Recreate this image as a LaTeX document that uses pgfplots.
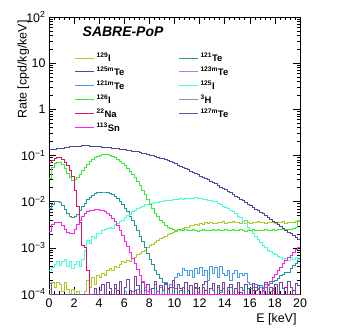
\documentclass[border=0pt]{standalone}
\usepackage{fontspec}
\setmainfont{Liberation Sans}
\usepackage{pgfplots}
\usepackage{pgfplotstable}
\pgfplotsset{compat=1.18}

\definecolor{cI129}{HTML}{AACC22}
\definecolor{cTe125m}{HTML}{554499}
\definecolor{cTe121m}{HTML}{4499FF}
\definecolor{cI126}{HTML}{33EE33}
\definecolor{cNa22}{HTML}{DD1166}
\definecolor{cSn113}{HTML}{FF22EE}
\definecolor{cTe121}{HTML}{229999}
\definecolor{cTe123m}{HTML}{BB77EE}
\definecolor{cI125}{HTML}{44FFDD}
\definecolor{cH3}{HTML}{9988BB}
\definecolor{cTe127m}{HTML}{7744AA}

% rates in cpd/kg/keV, left bin edges (0.2 keV bins); 1e-4 = empty bin
\pgfplotstableread[row sep=\\]{x y\\
0 1.26e-4\\ 0.2 1.78e-4\\ 0.4 1.41e-4\\ 0.6 1.78e-4\\ 0.8 1.58e-4\\ 1.0 1.12e-4\\ 1.2 1.78e-4\\ 1.4 1.26e-4\\
1.6 1e-4\\ 1.8 1.26e-4\\ 2.0 1e-4\\ 2.2 1.12e-4\\ 2.4 1e-4\\ 2.8 1.12e-4\\ 3.0 2.0e-4\\ 3.2 1.41e-4\\
3.4 2.24e-4\\ 3.6 1.58e-4\\ 3.8 2.51e-4\\ 4.0 2.24e-4\\ 4.2 2.82e-4\\ 4.4 2.51e-4\\ 4.6 3.16e-4\\ 4.8 3.55e-4\\
5.0 3.31e-4\\ 5.2 3.98e-4\\ 5.4 3.80e-4\\ 5.6 4.47e-4\\ 5.8 5.01e-4\\ 6.0 4.79e-4\\ 6.2 5.25e-4\\ 6.4 5.01e-4\\
6.6 6.03e-4\\ 6.8 6.31e-4\\ 7.0 7.08e-4\\ 7.2 7.59e-4\\ 7.4 8.32e-4\\ 7.6 8.91e-4\\ 7.8 1.00e-3\\ 8.0 1.12e-3\\
8.2 1.20e-3\\ 8.4 1.32e-3\\ 8.6 1.41e-3\\ 8.8 1.58e-3\\ 9.0 1.66e-3\\ 9.2 1.78e-3\\ 9.4 1.91e-3\\ 9.6 2.09e-3\\
9.8 2.19e-3\\ 10.0 2.29e-3\\ 10.2 2.51e-3\\ 10.4 2.51e-3\\ 10.6 2.69e-3\\ 10.8 2.75e-3\\ 11.0 2.82e-3\\ 11.2 3.02e-3\\
11.4 3.02e-3\\ 11.6 3.16e-3\\ 11.8 3.02e-3\\ 12.0 3.31e-3\\ 12.2 3.16e-3\\ 12.4 3.47e-3\\ 12.6 3.31e-3\\ 12.8 3.55e-3\\
13.0 3.39e-3\\ 13.2 3.4e-3\\ 13.4 3.6e-3\\ 13.6 3.5e-3\\ 13.8 3.7e-3\\ 14.0 3.4e-3\\ 14.2 3.6e-3\\ 14.4 3.5e-3\\
14.6 3.8e-3\\ 14.8 3.5e-3\\ 15.0 3.6e-3\\ 15.2 3.4e-3\\ 15.4 3.7e-3\\ 15.6 3.9e-3\\ 15.8 3.6e-3\\ 16.0 3.3e-3\\
16.2 3.6e-3\\ 16.4 3.5e-3\\ 16.6 3.7e-3\\ 16.8 3.5e-3\\ 17.0 3.6e-3\\ 17.2 3.4e-3\\ 17.4 3.6e-3\\ 17.6 3.5e-3\\
17.8 3.6e-3\\ 18.0 3.4e-3\\ 18.2 3.6e-3\\ 18.4 3.5e-3\\ 18.6 3.7e-3\\ 18.8 3.4e-3\\ 19.0 3.6e-3\\ 19.2 3.5e-3\\
19.4 3.6e-3\\ 19.6 3.7e-3\\ 19.8 4.0e-3\\ 20 4.0e-3\\
}\tIonetwonine

\pgfplotstableread[row sep=\\]{x y\\
0 0.132\\ 0.2 0.1345\\ 0.4 0.137\\ 0.6 0.140\\ 0.8 0.1425\\ 1.0 0.145\\ 1.2 0.148\\ 1.4 0.151\\ 1.6 0.154\\ 1.8 0.157\\
2.0 0.160\\ 2.2 0.1605\\ 2.4 0.161\\ 2.6 0.1615\\ 2.8 0.162\\ 3.0 0.162\\ 3.2 0.1605\\ 3.4 0.159\\ 3.6 0.1575\\ 3.8 0.156\\
4.0 0.155\\ 4.2 0.153\\ 4.4 0.151\\ 4.6 0.149\\ 4.8 0.147\\ 5.0 0.145\\ 5.2 0.142\\ 5.4 0.1395\\ 5.6 0.137\\ 5.8 0.1345\\
6.0 0.132\\ 6.2 0.1295\\ 6.4 0.127\\ 6.6 0.1245\\ 6.8 0.122\\ 7.0 0.120\\ 7.2 0.116\\ 7.4 0.1125\\ 7.6 0.109\\ 7.8 0.1055\\
8.0 0.102\\ 8.2 0.0983\\ 8.4 0.0948\\ 8.6 0.0914\\ 8.8 0.0881\\ 9.0 0.085\\ 9.2 0.0808\\ 9.4 0.0768\\ 9.6 0.0730\\ 9.8 0.0694\\
10.0 0.066\\ 10.2 0.0622\\ 10.4 0.0586\\ 10.6 0.0552\\ 10.8 0.052\\ 11.0 0.049\\ 11.2 0.0461\\ 11.4 0.0433\\ 11.6 0.0407\\ 11.8 0.0383\\
12.0 0.036\\ 12.2 0.0337\\ 12.4 0.0316\\ 12.6 0.0296\\ 12.8 0.0278\\ 13.0 0.026\\ 13.2 0.0242\\ 13.4 0.0224\\ 13.6 0.0208\\ 13.8 0.0194\\
14.0 0.018\\ 14.2 0.0167\\ 14.4 0.0155\\ 14.6 0.0143\\ 14.8 0.0133\\ 15.0 0.0123\\ 15.2 0.0113\\ 15.4 0.0104\\ 15.6 0.0096\\ 15.8 0.0088\\
16.0 0.0081\\ 16.2 0.0075\\ 16.4 0.0069\\ 16.6 0.0064\\ 16.8 0.0059\\ 17.0 0.0055\\ 17.2 0.0050\\ 17.4 0.0046\\ 17.6 0.0042\\ 17.8 0.0038\\
18.0 0.0035\\ 18.2 0.0032\\ 18.4 0.0029\\ 18.6 0.00265\\ 18.8 0.0024\\ 19.0 0.0022\\ 19.2 0.0020\\ 19.4 0.00181\\ 19.6 0.00164\\ 19.8 0.00149\\
20 0.00149\\
}\tTeonetwofivem

\pgfplotstableread[row sep=\\]{x y\\
0 1e-4\\ 6.0 1.12e-4\\ 6.2 1e-4\\ 6.6 1.12e-4\\ 6.8 1e-4\\ 7.0 1.26e-4\\ 7.2 1.12e-4\\ 7.4 1e-4\\ 7.6 1.41e-4\\ 7.8 1e-4\\
8.0 1.26e-4\\ 8.2 1e-4\\ 8.4 1.58e-4\\ 8.6 1.12e-4\\ 8.8 1.41e-4\\ 9.0 1e-4\\ 9.2 1.78e-4\\ 9.4 1.26e-4\\ 9.6 1.58e-4\\ 9.8 1.41e-4\\
10.0 2.24e-4\\ 10.2 2.82e-4\\ 10.4 2.51e-4\\ 10.6 3.55e-4\\ 10.8 3.16e-4\\ 11.0 2.51e-4\\ 11.2 3.16e-4\\ 11.4 2.24e-4\\ 11.6 3.55e-4\\ 11.8 2.82e-4\\
12.0 3.80e-4\\ 12.2 2.51e-4\\ 12.4 3.16e-4\\ 12.6 2.0e-4\\ 12.8 3.98e-4\\ 13.0 2.82e-4\\ 13.2 3.80e-4\\ 13.4 2.24e-4\\ 13.6 3.98e-4\\ 13.8 2.82e-4\\
14.0 2.51e-4\\ 14.2 3.16e-4\\ 14.4 2.0e-4\\ 14.6 2.82e-4\\ 14.8 3.16e-4\\ 15.0 2.24e-4\\ 15.2 2.82e-4\\ 15.4 2.51e-4\\ 15.6 2.82e-4\\ 15.8 1.78e-4\\
16.0 1.58e-4\\ 16.2 1.41e-4\\ 16.4 1.58e-4\\ 16.6 1.26e-4\\ 16.8 1.41e-4\\ 17.0 1.12e-4\\ 17.2 1e-4\\ 17.6 1.12e-4\\ 17.8 1e-4\\ 19.4 1.2e-4\\
19.6 1e-4\\ 20 1e-4\\
}\tTeonetwoonem

\pgfplotstableread[row sep=\\]{x y\\
0 0.0316\\ 0.2 0.0562\\ 0.4 0.0661\\ 0.6 0.0692\\ 0.8 0.0692\\ 1.0 0.0631\\ 1.2 0.0525\\ 1.4 0.0417\\ 1.6 0.0331\\ 1.8 0.0288\\
2.0 0.0302\\ 2.2 0.0339\\ 2.4 0.0398\\ 2.6 0.0468\\ 2.8 0.0550\\ 3.0 0.0646\\ 3.2 0.0741\\ 3.4 0.0832\\ 3.6 0.0912\\ 3.8 0.0977\\
4.0 0.102\\ 4.2 0.105\\ 4.4 0.105\\ 4.6 0.105\\ 4.8 0.102\\ 5.0 0.0977\\ 5.2 0.0912\\ 5.4 0.0832\\ 5.6 0.0759\\ 5.8 0.0676\\
6.0 0.0603\\ 6.2 0.0525\\ 6.4 0.0457\\ 6.6 0.0389\\ 6.8 0.0331\\ 7.0 0.0275\\ 7.2 0.0224\\ 7.4 0.0178\\ 7.6 0.0141\\ 7.8 0.0112\\
8.0 0.00891\\ 8.2 0.00708\\ 8.4 0.00562\\ 8.6 0.00468\\ 8.8 0.00398\\ 9.0 0.00347\\ 9.2 0.00309\\ 9.4 0.00282\\ 9.6 0.00263\\ 9.8 0.00251\\
10.0 0.00240\\ 10.2 0.00245\\ 10.4 0.00238\\ 10.6 0.00242\\ 10.8 0.00250\\ 11.0 0.00240\\ 11.2 0.00235\\ 11.4 0.00245\\ 11.6 0.00240\\ 11.8 0.00232\\
12.0 0.00242\\ 12.2 0.00250\\ 12.4 0.00238\\ 12.6 0.00240\\ 12.8 0.00236\\ 13.0 0.00245\\ 13.2 0.00240\\ 13.4 0.00248\\ 13.6 0.00236\\ 13.8 0.00240\\
14.0 0.00245\\ 14.2 0.00238\\ 14.4 0.00242\\ 14.6 0.00250\\ 14.8 0.00240\\ 15.0 0.00235\\ 15.2 0.00245\\ 15.4 0.00240\\ 15.6 0.00232\\ 15.8 0.00240\\
16.0 0.00238\\ 16.2 0.00245\\ 16.4 0.00240\\ 16.6 0.00236\\ 16.8 0.00242\\ 17.0 0.00238\\ 17.2 0.00245\\ 17.4 0.00240\\ 17.6 0.00244\\ 17.8 0.00248\\
18.0 0.00242\\ 18.2 0.00246\\ 18.4 0.00250\\ 18.6 0.00245\\ 18.8 0.00252\\ 19.0 0.00251\\ 19.2 0.00255\\ 19.4 0.00258\\ 19.6 0.0027\\ 19.8 0.0037\\
20 0.0037\\
}\tIonetwosix

\pgfplotstableread[row sep=\\]{x y\\
0 0.0692\\ 0.2 0.0794\\ 0.4 0.0871\\ 0.6 0.0891\\ 0.8 0.0891\\ 1.0 0.0832\\ 1.2 0.0724\\ 1.4 0.0603\\ 1.6 0.0479\\ 1.8 0.0355\\
2.0 0.0178\\ 2.2 0.00794\\ 2.4 0.00355\\ 2.6 0.00112\\ 2.8 0.00100\\ 3.0 0.000316\\ 3.2 1e-4\\ 5.2 1.3e-4\\ 5.4 1e-4\\ 6.8 1.2e-4\\
7.0 1e-4\\ 9.4 1.3e-4\\ 9.6 1e-4\\ 11.6 1.4e-4\\ 11.8 1e-4\\ 12.4 1.2e-4\\ 12.6 1e-4\\ 14.8 1.3e-4\\ 15.0 1e-4\\ 16.2 1.2e-4\\
16.4 1e-4\\ 17.8 1.3e-4\\ 18.0 1e-4\\ 18.8 1.4e-4\\ 19.0 1e-4\\ 19.4 1.2e-4\\ 19.6 1e-4\\ 20 1e-4\\
}\tNa

\pgfplotstableread[row sep=\\]{x y\\
0 0.00224\\ 0.2 0.00316\\ 0.4 0.00355\\ 0.6 0.00363\\ 0.8 0.00347\\ 1.0 0.00302\\ 1.2 0.00251\\ 1.4 0.00219\\ 1.6 0.00200\\ 1.8 0.00209\\
2.0 0.00251\\ 2.2 0.00316\\ 2.4 0.00398\\ 2.6 0.00479\\ 2.8 0.00550\\ 3.0 0.00603\\ 3.2 0.00646\\ 3.4 0.00661\\ 3.6 0.00676\\ 3.8 0.00676\\
4.0 0.00661\\ 4.2 0.00631\\ 4.4 0.00603\\ 4.6 0.00550\\ 4.8 0.00501\\ 5.0 0.00437\\ 5.2 0.00372\\ 5.4 0.00302\\ 5.6 0.00240\\ 5.8 0.00182\\
6.0 0.00138\\ 6.2 0.00105\\ 6.4 0.000794\\ 6.6 0.000603\\ 6.8 0.000457\\ 7.0 0.000347\\ 7.2 0.000251\\ 7.4 0.000191\\ 7.6 0.000141\\ 7.8 0.000112\\
8.0 1e-4\\ 17.0 1.2e-4\\ 17.2 1.4e-4\\ 17.4 1.6e-4\\ 17.6 1.9e-4\\ 17.8 2.3e-4\\ 18.0 2.7e-4\\ 18.2 3.2e-4\\ 18.4 3.8e-4\\ 18.6 4.5e-4\\
18.8 5.3e-4\\ 19.0 6.1e-4\\ 19.2 7.0e-4\\ 19.4 8.0e-4\\ 19.6 9.0e-4\\ 19.8 1.0e-3\\ 20 1.0e-3\\
}\tSn

\pgfplotstableread[row sep=\\]{x y\\
0 0.00708\\ 0.2 0.00891\\ 0.4 0.0100\\ 0.6 0.0100\\ 0.8 0.00955\\ 1.0 0.00832\\ 1.2 0.00692\\ 1.4 0.00562\\ 1.6 0.00479\\ 1.8 0.00447\\
2.0 0.00468\\ 2.2 0.00537\\ 2.4 0.00646\\ 2.6 0.00776\\ 2.8 0.00933\\ 3.0 0.0110\\ 3.2 0.0123\\ 3.4 0.0138\\ 3.6 0.0148\\ 3.8 0.0155\\
4.0 0.0158\\ 4.2 0.0162\\ 4.4 0.0162\\ 4.6 0.0158\\ 4.8 0.0151\\ 5.0 0.0141\\ 5.2 0.0129\\ 5.4 0.0115\\ 5.6 0.0100\\ 5.8 0.00851\\
6.0 0.00724\\ 6.2 0.00603\\ 6.4 0.00490\\ 6.6 0.00389\\ 6.8 0.00302\\ 7.0 0.00234\\ 7.2 0.00178\\ 7.4 0.00135\\ 7.6 0.00100\\ 7.8 0.000759\\
8.0 0.000562\\ 8.2 0.000427\\ 8.4 0.000331\\ 8.6 0.000263\\ 8.8 0.000214\\ 9.0 0.000178\\ 9.2 1.58e-4\\ 9.4 1.26e-4\\ 9.6 1.41e-4\\ 9.8 1e-4\\
10.0 1.3e-4\\ 10.2 1e-4\\ 10.4 1.2e-4\\ 10.6 1.4e-4\\ 10.8 1e-4\\ 11.0 1.2e-4\\ 11.2 1.5e-4\\ 11.4 1e-4\\ 11.6 1.3e-4\\ 11.8 1.1e-4\\
12.0 1e-4\\ 12.2 1.4e-4\\ 12.4 1.2e-4\\ 12.6 1e-4\\ 12.8 1.3e-4\\ 13.0 1.2e-4\\ 13.2 1e-4\\ 13.4 1.4e-4\\ 13.6 1.1e-4\\ 13.8 1.3e-4\\
14.0 1e-4\\ 14.2 1.2e-4\\ 14.4 1.4e-4\\ 14.6 1e-4\\ 14.8 1.3e-4\\ 15.0 1.1e-4\\ 15.2 1.4e-4\\ 15.4 1.2e-4\\ 15.6 1e-4\\ 15.8 1.3e-4\\
16.0 1.3e-4\\ 16.2 1.2e-4\\ 16.4 1.4e-4\\ 16.6 1.3e-4\\ 16.8 1.5e-4\\ 17.0 1.4e-4\\ 17.2 1.6e-4\\ 17.4 1.5e-4\\ 17.6 1.7e-4\\ 17.8 1.9e-4\\
18.0 2.0e-4\\ 18.2 2.2e-4\\ 18.4 2.5e-4\\ 18.6 2.6e-4\\ 18.8 3.0e-4\\ 19.0 3.0e-4\\ 19.2 3.5e-4\\ 19.4 4.2e-4\\ 19.6 4.5e-4\\ 19.8 6.0e-4\\
20 6.0e-4\\
}\tTeonetwoone

\pgfplotstableread[row sep=\\]{x y\\
0 3.16e-4\\ 0.2 3.80e-4\\ 0.4 4.47e-4\\ 0.6 5.01e-4\\ 0.8 4.17e-4\\ 1.0 5.01e-4\\ 1.2 5.62e-4\\ 1.4 3.98e-4\\ 1.6 5.01e-4\\ 1.8 3.55e-4\\
2.0 4.47e-4\\ 2.2 5.01e-4\\ 2.4 3.98e-4\\ 2.6 5.62e-4\\ 2.8 8.91e-4\\ 3.0 1.41e-3\\ 3.2 1.26e-3\\ 3.4 1.78e-3\\ 3.6 1.58e-3\\ 3.8 2.09e-3\\
4.0 2.00e-3\\ 4.2 2.40e-3\\ 4.4 2.51e-3\\ 4.6 2.63e-3\\ 4.8 2.82e-3\\ 5.0 2.69e-3\\ 5.2 3.16e-3\\ 5.4 3.39e-3\\ 5.6 3.80e-3\\ 5.8 3.98e-3\\
6.0 4.47e-3\\ 6.2 5.01e-3\\ 6.4 5.37e-3\\ 6.6 6.03e-3\\ 6.8 6.31e-3\\ 7.0 7.08e-3\\ 7.2 7.59e-3\\ 7.4 7.94e-3\\ 7.6 8.51e-3\\ 7.8 8.71e-3\\
8.0 9.12e-3\\ 8.2 9.33e-3\\ 8.4 9.55e-3\\ 8.6 9.55e-3\\ 8.8 0.0100\\ 9.0 0.0102\\ 9.2 0.0105\\ 9.4 0.0107\\ 9.6 0.0107\\ 9.8 0.0110\\
10.0 0.0110\\ 10.2 0.0112\\ 10.4 0.0115\\ 10.6 0.0112\\ 10.8 0.0117\\ 11.0 0.0117\\ 11.2 0.0120\\ 11.4 0.0120\\ 11.6 0.0123\\ 11.8 0.0117\\
12.0 0.0117\\ 12.2 0.0112\\ 12.4 0.0112\\ 12.6 0.0107\\ 12.8 0.0107\\ 13.0 0.0102\\ 13.2 0.0100\\ 13.4 0.00933\\ 13.6 0.00891\\ 13.8 0.00794\\
14.0 0.00759\\ 14.2 0.00708\\ 14.4 0.00631\\ 14.6 0.00603\\ 14.8 0.00562\\ 15.0 0.00479\\ 15.2 0.00447\\ 15.4 0.00380\\ 15.6 0.00331\\ 15.8 0.00282\\
16.0 0.00240\\ 16.2 0.00200\\ 16.4 0.00178\\ 16.6 0.00151\\ 16.8 0.00132\\ 17.0 0.00112\\ 17.2 0.00100\\ 17.4 8.91e-4\\ 17.6 8.32e-4\\ 17.8 7.59e-4\\
18.0 7.08e-4\\ 18.2 6.61e-4\\ 18.4 6.31e-4\\ 18.6 5.62e-4\\ 18.8 6.03e-4\\ 19.0 5.37e-4\\ 19.2 6.31e-4\\ 19.4 5.62e-4\\ 19.6 6.31e-4\\ 19.8 5.62e-4\\
20 5.62e-4\\
}\tIonetwofive

\pgfplotstableread[row sep=\\]{x y\\
0 1.7e-4\\ 0.2 1e-4\\ 3.6 1.3e-4\\ 3.8 1e-4\\ 4.0 1.2e-4\\ 4.2 1.6e-4\\ 4.4 1e-4\\ 4.6 1.8e-4\\ 4.8 1.3e-4\\ 5.0 1e-4\\
5.2 1.6e-4\\ 5.4 1.2e-4\\ 5.6 1.9e-4\\ 5.8 1e-4\\ 6.0 1.4e-4\\ 6.2 2.1e-4\\ 6.4 1.2e-4\\ 6.6 1e-4\\ 6.8 2.4e-4\\ 7.0 1.5e-4\\
7.2 1e-4\\ 7.4 1.8e-4\\ 7.6 1.2e-4\\ 7.8 1.6e-4\\ 8.0 1e-4\\ 8.2 1.3e-4\\ 8.4 1.9e-4\\ 8.6 1e-4\\ 8.8 1.5e-4\\ 9.0 1.2e-4\\
9.2 1.7e-4\\ 9.4 1e-4\\ 9.6 1.4e-4\\ 9.8 2.0e-4\\ 10.0 1e-4\\ 10.2 1.6e-4\\ 10.4 1.3e-4\\ 10.6 1e-4\\ 10.8 1.8e-4\\ 11.0 1.2e-4\\
11.2 1.5e-4\\ 11.4 1e-4\\ 11.6 1.7e-4\\ 11.8 1.3e-4\\ 12.0 1e-4\\ 12.2 1.6e-4\\ 12.4 1.9e-4\\ 12.6 1e-4\\ 12.8 1.3e-4\\ 13.0 1.7e-4\\
13.2 1e-4\\ 13.4 1.5e-4\\ 13.6 1.2e-4\\ 13.8 1.8e-4\\ 14.0 1e-4\\ 14.2 1.4e-4\\ 14.4 1.6e-4\\ 14.6 1e-4\\ 14.8 1.3e-4\\ 15.0 1.8e-4\\
15.2 1.1e-4\\ 15.4 1e-4\\ 15.6 1.6e-4\\ 15.8 1.3e-4\\ 16.0 1e-4\\ 16.2 1.7e-4\\ 16.4 1.2e-4\\ 16.6 1.5e-4\\ 16.8 1e-4\\ 17.0 1.3e-4\\
17.2 1.8e-4\\ 17.4 1e-4\\ 17.6 1.4e-4\\ 17.8 1.2e-4\\ 18.0 1.6e-4\\ 18.2 1e-4\\ 18.4 1.8e-4\\ 18.6 1.3e-4\\ 18.8 1e-4\\ 19.0 1.9e-4\\
19.2 1.4e-4\\ 19.4 1e-4\\ 19.6 1.7e-4\\ 19.8 1.5e-4\\ 20 1.5e-4\\
}\tTeonetwosevenm

\pgfplotstableread[row sep=\\]{x y\\
0 1e-4\\ 20 1e-4\\
}\tEmpty

\newcommand{\lab}[2]{\makebox[80bp][l]{\textsuperscript{#1}#2}}

\begin{document}
\begin{tikzpicture}
\begin{axis}[
    scale only axis,
    width=251bp, height=277bp,
    ymode=log,
    xmin=0, xmax=20,
    ymin=1e-4, ymax=100,
    xtick={0,2,...,20},
    minor x tick num=4,
    ytick={1e-4,1e-3,1e-2,1e-1,1,10,100},
    yticklabels={10\textsuperscript{−4},10\textsuperscript{−3},10\textsuperscript{−2},10\textsuperscript{−1},1,10,10\textsuperscript{2}},
    minor ytick={2e-4,3e-4,4e-4,5e-4,6e-4,7e-4,8e-4,9e-4,
                 2e-3,3e-3,4e-3,5e-3,6e-3,7e-3,8e-3,9e-3,
                 2e-2,3e-2,4e-2,5e-2,6e-2,7e-2,8e-2,9e-2,
                 0.2,0.3,0.4,0.5,0.6,0.7,0.8,0.9,
                 2,3,4,5,6,7,8,9,20,30,40,50,60,70,80,90},
    tick align=inside,
    major tick length=7bp,
    minor tick length=3.5bp,
    /pgf/number format/assume math mode=true,
    tick label style={font=\fontsize{12.5}{14}\selectfont},
    xticklabel style={yshift=-1bp},
    xlabel={E [keV]},
    ylabel={Rate [cpd/kg/keV]},
    label style={font=\fontsize{12.5}{14}\selectfont},
    xlabel style={at={(axis description cs:1,-0.058)}, anchor=north east},
    ylabel style={at={(axis description cs:-0.065,1)}, anchor=south east},
    axis line style={line width=0.8bp},
    every tick/.style={black, line width=0.6bp},
    legend columns=2,
    legend cell align=left,
    legend image code/.code={\draw[#1] (0bp,0bp) -- (19bp,0bp);},
    legend style={draw=none, fill=none,
        at={(axis description cs:0.09,0.885)}, anchor=north west,
        font=\fontsize{9.5}{11}\selectfont\bfseries,
        row sep=0bp},
    every axis plot/.append style={const plot mark left, line width=0.9bp, mark=none},
]
\addplot[cI129] table {\tIonetwonine};
\addlegendentry{\lab{129}{I}}
\addplot[cTe121] table {\tTeonetwoone};
\addlegendentry{\textsuperscript{121}Te}
\addplot[cTe125m] table {\tTeonetwofivem};
\addlegendentry{\lab{125m}{Te}}
\addplot[cTe123m] table {\tEmpty};
\addlegendentry{\textsuperscript{123m}Te}
\addplot[cTe121m] table {\tTeonetwoonem};
\addlegendentry{\lab{121m}{Te}}
\addplot[cI125] table {\tIonetwofive};
\addlegendentry{\textsuperscript{125}I}
\addplot[cI126] table {\tIonetwosix};
\addlegendentry{\lab{126}{I}}
\addplot[cH3] table {\tEmpty};
\addlegendentry{\textsuperscript{3}H}
\addplot[cNa22] table {\tNa};
\addlegendentry{\lab{22}{Na}}
\addplot[cTe127m] table {\tTeonetwosevenm};
\addlegendentry{\textsuperscript{127m}Te}
\addplot[cSn113] table {\tSn};
\addlegendentry{\lab{113}{Sn}}
\node[font=\fontsize{14}{16}\selectfont\bfseries\itshape] at (axis description cs:0.295,0.946) {SABRE-PoP};
\end{axis}
\useasboundingbox (current axis.south west) ++(-49bp,-41bp) rectangle ([shift={(49bp,17bp)}]current axis.north east);
\end{tikzpicture}
\end{document}
